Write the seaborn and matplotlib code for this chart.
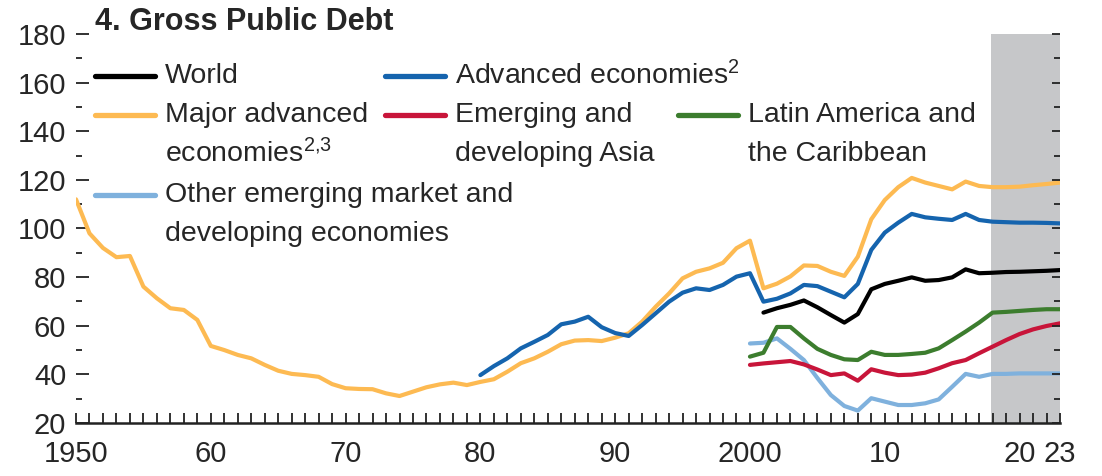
import numpy as np
import pandas as pd
import matplotlib
matplotlib.use("Agg")
import matplotlib.pyplot as plt
from matplotlib.lines import Line2D
from matplotlib.ticker import MultipleLocator, FixedLocator
import seaborn as sns

# ── data (percent of GDP) ──
years_major = np.arange(1950, 2024)
major_advanced = [
    112, 98, 92, 88.2, 88.7, 76.1, 71.3, 67.2, 66.5, 62.4,
    51.7, 50.0, 48.0, 46.6, 43.9, 41.5, 40.2, 39.7, 39.0, 36.0,
    34.3, 34.0, 33.9, 32.2, 31.1, 32.9, 34.7, 35.9, 36.6, 35.6,
    36.9, 38.0, 41.1, 44.6, 46.6, 49.3, 52.4, 53.9, 54.1, 53.7,
    55.1, 56.9, 61.7, 67.8, 73.3, 79.5, 82.2, 83.6, 85.9, 91.9,
    95.0, 75.4, 77.3, 80.3, 84.8, 84.6, 82.2, 80.5, 88.4, 103.8,
    111.7, 117.0, 120.8, 118.9, 117.5, 116.1, 119.3, 117.5, 117.0, 117.0,
    117.2, 117.8, 118.3, 118.9,
]

years_advanced = np.arange(1980, 2024)
advanced = [
    39.7, 43.4, 46.6, 50.7, 53.4, 56.2, 60.6, 61.7, 63.7, 59.4,
    57.0, 55.8, 60.3, 65.1, 69.9, 73.6, 75.4, 74.7, 76.8, 80.2,
    81.6, 69.9, 71.1, 73.3, 76.8, 76.3, 74.0, 71.7, 77.2, 91.2,
    98.3, 102.4, 106.0, 104.6, 104.0, 103.5, 106.0, 103.5, 102.8, 102.6,
    102.4, 102.4, 102.3, 102.1,
]

years_world = np.arange(2001, 2024)
world = [
    65.4, 67.2, 68.6, 70.4, 67.6, 64.4, 61.3, 64.8, 75.0, 77.2,
    78.5, 79.9, 78.5, 78.8, 79.9, 83.2, 81.6, 81.8, 82.1, 82.2,
    82.4, 82.6, 82.9,
]

years_em = np.arange(2000, 2024)
latam = [
    47.3, 48.9, 59.5, 59.5, 54.8, 50.5, 48.0, 46.2, 45.9, 49.3,
    48.0, 48.0, 48.4, 48.9, 50.7, 54.1, 57.6, 61.3, 65.4, 65.7,
    66.1, 66.5, 66.8, 66.8,
]
em_asia = [
    43.9, 44.5, 45.0, 45.5, 44.1, 42.0, 39.7, 40.4, 37.4, 42.1,
    40.7, 39.7, 39.9, 40.7, 42.5, 44.6, 45.9, 48.7, 51.4, 54.1,
    56.6, 58.5, 59.9, 61.0,
]
other_em = [
    52.7, 53.0, 54.8, 50.5, 45.9, 38.5, 31.5, 27.0, 25.1, 30.2,
    28.8, 27.4, 27.4, 28.1, 29.7, 34.9, 40.2, 39.0, 40.2, 40.2,
    40.4, 40.4, 40.4, 40.4,
]

projection_start = 2017.85
x_tick_years = [1950, 1960, 1970, 1980, 1990, 2000, 2010, 2020, 2023]
x_tick_labels = ["1950", "60", "70", "80", "90", "2000", "10", "20", "23"]

colors = {
    "Major advanced": "#FDBA52",
    "Advanced": "#1564AE",
    "World": "#000000",
    "Latin America": "#3C7D2E",
    "Emerging Asia": "#C8153A",
    "Other EM": "#7FB1DD",
}

frames = [
    pd.DataFrame({"year": years_major, "debt": major_advanced, "series": "Major advanced"}),
    pd.DataFrame({"year": years_em, "debt": other_em, "series": "Other EM"}),
    pd.DataFrame({"year": years_em, "debt": em_asia, "series": "Emerging Asia"}),
    pd.DataFrame({"year": years_em, "debt": latam, "series": "Latin America"}),
    pd.DataFrame({"year": years_advanced, "debt": advanced, "series": "Advanced"}),
    pd.DataFrame({"year": years_world, "debt": world, "series": "World"}),
]
df = pd.concat(frames, ignore_index=True)

sns.set_style("white")
plt.rcParams["font.family"] = ["Liberation Sans", "DejaVu Sans"]
plt.rcParams["mathtext.fontset"] = "custom"
plt.rcParams["mathtext.rm"] = "Liberation Sans"
plt.rcParams["mathtext.default"] = "regular"

W, H = 1102, 476
fig = plt.figure(figsize=(W / 100, H / 100), dpi=100)
ax = fig.add_axes([76 / W, 1 - 423 / H, 984 / W, 389 / H])

ax.axvspan(projection_start, 2023, color="#C6C7C9", lw=0, zorder=0)

sns.lineplot(data=df, x="year", y="debt", hue="series", palette=colors,
             hue_order=[f["series"][0] for f in frames], estimator=None,
             lw=3, legend=False, ax=ax, zorder=3)

ax.set_xlim(1950, 2023)
ax.set_ylim(20, 180)
ax.set_xlabel("")
ax.set_ylabel("")

for s in ["top", "left", "right"]:
    ax.spines[s].set_visible(False)
ax.spines["bottom"].set_linewidth(1.8)
ax.spines["bottom"].set_color("#222222")

ax.xaxis.set_major_locator(FixedLocator(x_tick_years))
ax.set_xticklabels(x_tick_labels)
ax.xaxis.set_minor_locator(MultipleLocator(1))
ax.tick_params(axis="x", which="both", direction="in", length=7, width=1.3,
               color="#222222", bottom=True, pad=12, labelsize=21)

ax.yaxis.set_major_locator(MultipleLocator(20))
ax.yaxis.set_minor_locator(MultipleLocator(10))
ax.tick_params(axis="y", which="major", direction="in", length=9.5, width=1.3,
               color="#222222", left=True, pad=7, labelsize=21)
ax.tick_params(axis="y", which="minor", direction="in", length=4.5, width=1.3,
               color="#222222", left=True)

# right-hand ticks
ax2 = ax.twinx()
ax2.set_ylim(20, 180)
for s in ["top", "left", "right", "bottom"]:
    ax2.spines[s].set_visible(False)
ax2.yaxis.set_major_locator(MultipleLocator(20))
ax2.yaxis.set_minor_locator(MultipleLocator(10))
ax2.tick_params(axis="y", which="major", direction="in", length=5.5, width=1.3,
                color="#222222", right=True, labelright=False)
ax2.tick_params(axis="y", which="minor", direction="in", length=4, width=1.3,
                color="#222222", right=True)

# title
fig.text(95 / W, 1 - 22 / H, "4. Gross Public Debt", fontsize=22,
         fontweight="bold", va="center", ha="left")

# legend, laid out by hand like the original
legend_items = [
    (95, 76, ["World"], "World"),
    (95, 115, ["Major advanced", "economies$^{2{,}3}$"], "Major advanced"),
    (95, 195, ["Other emerging market and", "developing economies"], "Other EM"),
    (385, 76, ["Advanced economies$^{2}$"], "Advanced"),
    (385, 115, ["Emerging and", "developing Asia"], "Emerging Asia"),
    (678, 115, ["Latin America and", "the Caribbean"], "Latin America"),
]
for px, py, lines, key in legend_items:
    fig.add_artist(Line2D([px / W, (px + 60) / W], [1 - py / H, 1 - py / H],
                          transform=fig.transFigure, color=colors[key], lw=3.8))
    for i, line in enumerate(lines):
        fig.text((px + 70) / W, 1 - (py + i * 39) / H, line, fontsize=20.5,
                 va="center", ha="left")

plt.savefig("out.png", dpi=100)
plt.close()
